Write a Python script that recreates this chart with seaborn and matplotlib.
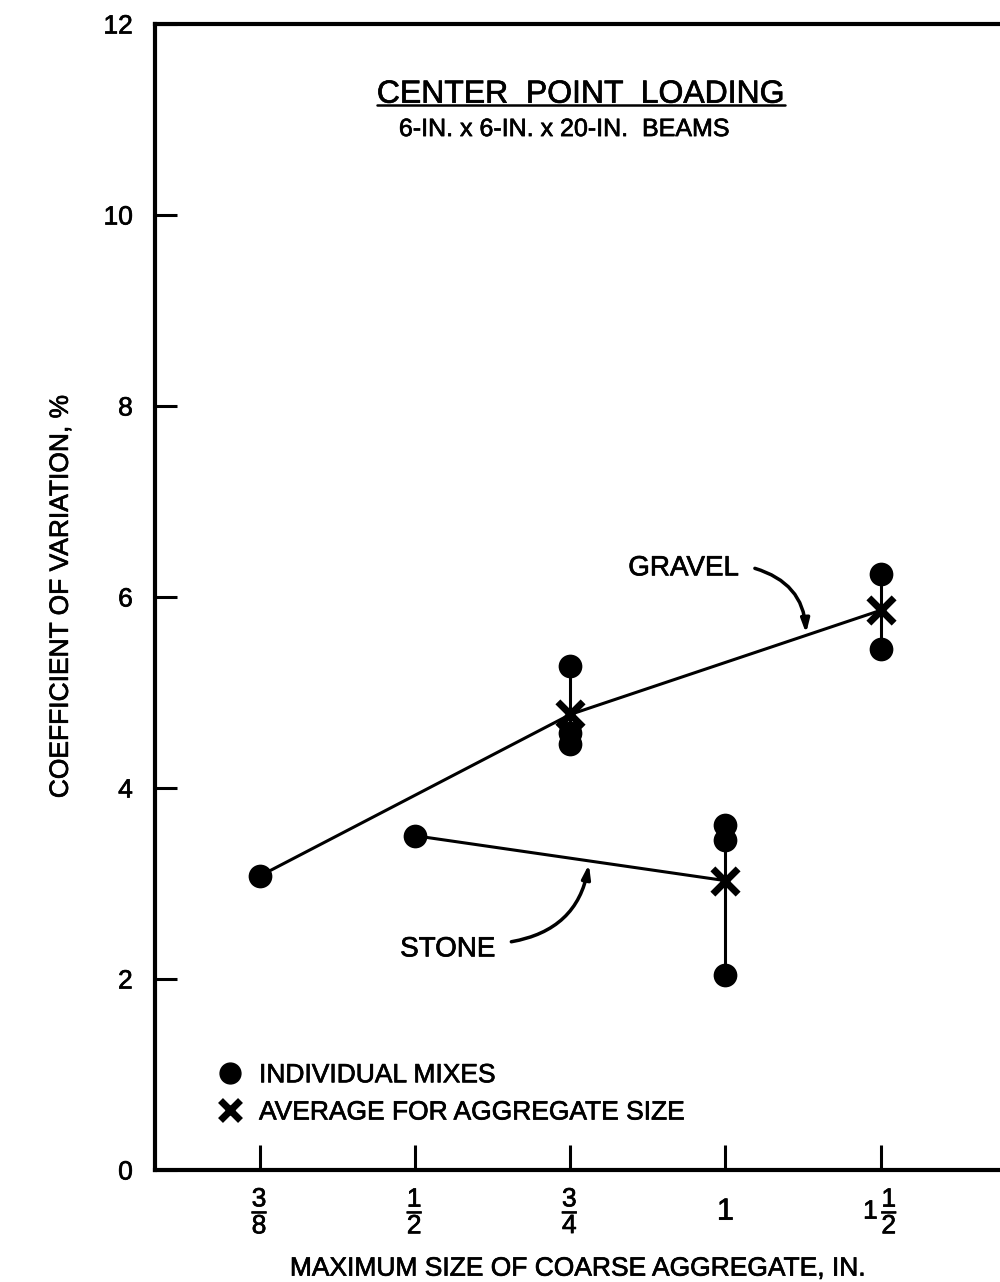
import pandas as pd
import seaborn as sns
import matplotlib.pyplot as plt
from matplotlib import patheffects
from matplotlib.lines import Line2D
from matplotlib.text import Text

# aggregate sizes on the x axis (category order)
sizes = ["3/8", "1/2", "3/4", "1", "1 1/2"]
size_labels = [r"$\dfrac{3}{8}$", r"$\dfrac{1}{2}$", r"$\dfrac{3}{4}$", "1", r"$1\,\dfrac{1}{2}$"]

# individual mixes
gravel_mix_size = ["3/8", "3/4", "3/4", "3/4", "1 1/2", "1 1/2"]
gravel_mix_cv = [3.08, 5.28, 4.58, 4.46, 6.24, 5.46]
stone_mix_size = ["1/2", "1", "1", "1"]
stone_mix_cv = [3.50, 3.61, 3.46, 2.04]

# averages for aggregate size
gravel_avg_size = ["3/8", "3/4", "1 1/2"]
gravel_avg_cv = [3.08, 4.77, 5.86]
stone_avg_size = ["1/2", "1"]
stone_avg_cv = [3.50, 3.03]

sns.set_style("white")
plt.rcParams["font.family"] = ["Liberation Sans", "DejaVu Sans"]
plt.rcParams["mathtext.fontset"] = "custom"
plt.rcParams["mathtext.rm"] = "Liberation Sans"
plt.rcParams["mathtext.it"] = "Liberation Sans"
plt.rcParams["mathtext.bf"] = "Liberation Sans:bold"
for key in ["text.color", "axes.labelcolor", "xtick.color", "ytick.color"]:
    plt.rcParams[key] = "black"

pos = {s: i for i, s in enumerate(sizes)}

mixes = pd.concat([
    pd.DataFrame({"aggregate": "gravel", "size": gravel_mix_size, "cv": gravel_mix_cv}),
    pd.DataFrame({"aggregate": "stone", "size": stone_mix_size, "cv": stone_mix_cv}),
], ignore_index=True)
mixes["pos"] = mixes["size"].map(pos)

avgs = pd.concat([
    pd.DataFrame({"aggregate": "gravel", "size": gravel_avg_size, "cv": gravel_avg_cv}),
    pd.DataFrame({"aggregate": "stone", "size": stone_avg_size, "cv": stone_avg_cv}),
], ignore_index=True)
avgs["pos"] = avgs["size"].map(pos)

counts = mixes.groupby(["aggregate", "size"])["cv"].count()
avgs["n"] = [counts[(a, s)] for a, s in zip(avgs["aggregate"], avgs["size"])]

fig = plt.figure(figsize=(10, 12.82), dpi=100)
ax = fig.add_axes([0.155, 1 - 1170 / 1282, 0.845, (1170 - 24) / 1282])

# trend lines through the averages
sns.lineplot(data=avgs, x="pos", y="cv", units="aggregate", estimator=None,
             color="black", lw=2.2, ax=ax, legend=False, sort=False)

# range bars joining individual mixes at one size
rng = mixes.groupby(["aggregate", "pos"])["cv"].agg(["min", "max", "count"]).reset_index()
rng = rng[rng["count"] > 1]
ax.vlines(rng["pos"], rng["min"], rng["max"], color="black", lw=2.2)

sns.scatterplot(data=mixes, x="pos", y="cv", color="black", s=250,
                edgecolor="black", ax=ax, zorder=4, legend=False)
sns.scatterplot(data=avgs[avgs["n"] > 1], x="pos", y="cv", marker="x", color="black",
                s=330, linewidth=5, ax=ax, zorder=5, legend=False)

ax.set_xlim(-0.677, 4.77)
ax.set_ylim(0, 12)
ax.set_yticks(range(0, 13, 2))
ax.set_xticks(range(len(sizes)))
ax.set_xticklabels(size_labels)
for lab in ax.get_xticklabels():
    lab.set_va("center")
    lab.set_fontsize(22 if lab.get_text() == "1" else 19)
ax.tick_params(axis="x", bottom=True, direction="in", length=18, width=2.2, pad=30)
ax.tick_params(axis="y", left=True, direction="in", length=16, width=2.2, pad=16, labelsize=19)

for side in ["left", "bottom", "top"]:
    ax.spines[side].set_linewidth(3)
    ax.spines[side].set_color("black")
ax.spines["right"].set_visible(False)

ax.set_xlabel("MAXIMUM SIZE OF COARSE AGGREGATE, IN.", fontsize=19, labelpad=15)
ax.set_ylabel("COEFFICIENT OF VARIATION, %", fontsize=19, labelpad=22)

title = ax.text(2.07, 11.26, "CENTER  POINT  LOADING", fontsize=23, ha="center", va="center")
ax.text(1.96, 10.90, "6-IN. x 6-IN. x 20-IN.  BEAMS", fontsize=18, ha="center", va="center")

# labels with curved arrows
arrow = dict(arrowstyle="-|>,head_length=0.8,head_width=0.25", color="black",
             lw=2.5, shrinkA=0, shrinkB=0)
ax.text(2.73, 6.30, "GRAVEL", fontsize=20, ha="center", va="center")
ax.annotate("", xy=(3.52, 5.62), xytext=(3.19, 6.30),
            arrowprops=dict(arrow, connectionstyle="arc3,rad=-0.35"))
ax.text(1.21, 2.31, "STONE", fontsize=20, ha="center", va="center")
ax.annotate("", xy=(2.12, 3.20), xytext=(1.62, 2.39),
            arrowprops=dict(arrow, connectionstyle="arc3,rad=0.35"))

handles = [
    Line2D([], [], marker="o", ls="none", color="black", markersize=15),
    Line2D([], [], marker="x", ls="none", color="black", markersize=14, mew=5),
]
ax.legend(handles, ["INDIVIDUAL MIXES", "AVERAGE FOR AGGREGATE SIZE"],
          loc="lower left", bbox_to_anchor=(0.045, 0.019), frameon=False,
          fontsize=19, handletextpad=0.6, labelspacing=0.5, handlelength=1.0)

# thicken the lettering a little, like the scanned original
for t in fig.findobj(Text):
    t.set_path_effects([patheffects.withStroke(linewidth=0.5, foreground="black")])

# underline the title just below the capitals
fig.canvas.draw()
bb = title.get_window_extent().transformed(fig.transFigure.inverted())
y_line = bb.y0 + 0.0035
fig.add_artist(Line2D([bb.x0, bb.x1], [y_line, y_line],
                      transform=fig.transFigure, color="black", lw=1.8))

fig.savefig("out.png", dpi=100)
